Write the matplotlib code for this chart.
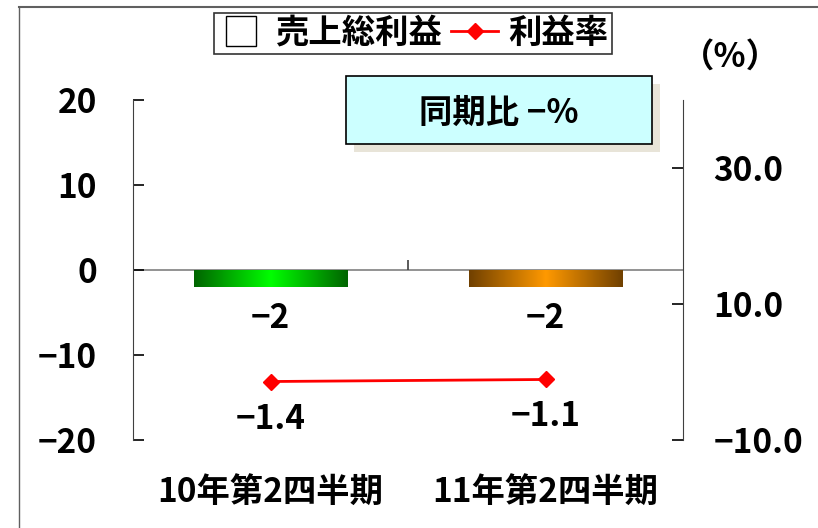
import numpy as np
import matplotlib
matplotlib.use('Agg')
import matplotlib.pyplot as plt
from matplotlib.lines import Line2D
from matplotlib.patches import Rectangle
from matplotlib.colors import LinearSegmentedColormap

plt.rcParams['font.family'] = ['Noto Sans CJK JP', 'DejaVu Sans']
plt.rcParams['font.weight'] = 'bold'

# データ
categories = ['10年第2四半期', '11年第2四半期']
gross_profit = [-2, -2]          # 売上総利益（左軸）
profit_rate = [-1.4, -1.1]       # 利益率（右軸, %）
bar_labels = ['−2', '−2']
rate_labels = ['−1.4', '−1.1']
left_ticks = [-20, -10, 0, 10, 20]
left_ticklabels = ['−20', '−10', '0', '10', '20']
right_ticks = [-10, 10, 30]
right_ticklabels = ['−10.0', '10.0', '30.0']
bar_grad = [['#006400', '#00ff00', '#006400'],
            ['#704000', '#ff9900', '#704000']]

FS = 24

fig = plt.figure(figsize=(8.18, 5.28), dpi=100)
ax = fig.add_axes([133/818, 1-440/528, 550/818, 340/528])
ax2 = ax.twinx()

x = np.arange(len(categories))
bars = ax.bar(x, gross_profit, width=0.56, color='none', zorder=2)
for b, cols in zip(bars, bar_grad):
    cmap = LinearSegmentedColormap.from_list('g', cols)
    grad = np.linspace(0, 1, 256).reshape(1, -1)
    im = ax.imshow(grad, cmap=cmap, aspect='auto', zorder=2,
                   extent=[b.get_x(), b.get_x()+b.get_width(), b.get_y(), b.get_y()+b.get_height()])
    im.set_clip_path(b)

for xi, v, t in zip(x, gross_profit, bar_labels):
    ax.annotate(t, xy=(xi, v), xytext=(0, -23), textcoords='offset points',
                ha='center', va='center', fontsize=FS, fontweight='bold')

ax.axhline(0, color='#808080', lw=1.2, zorder=1)
ax.vlines(0.5, 0, 1.2, color='#404040', lw=1.2)

ax.set_xlim(-0.5, 1.5)
ax.set_ylim(-20, 20)
ax.set_yticks(left_ticks)
ax.set_yticklabels(left_ticklabels)
ax.set_xticks(x)
ax.set_xticklabels(categories)
ax.tick_params(axis='x', length=0, pad=26, labelsize=FS)
ax.tick_params(axis='y', direction='in', length=8, pad=26, labelsize=FS, width=1.2)
for s in ['top', 'bottom', 'right']:
    ax.spines[s].set_visible(False)
ax.spines['left'].set_color('#404040')

ax2.plot(x, profit_rate, color='red', lw=2, marker='D', markersize=8, zorder=3)
for xi, v, t in zip(x, profit_rate, rate_labels):
    ax2.annotate(t, xy=(xi, v), xytext=(0, -27), textcoords='offset points',
                 ha='center', va='center', fontsize=FS, fontweight='bold')
ax2.set_ylim(-10, 40)
ax2.set_yticks(right_ticks)
ax2.set_yticklabels(right_ticklabels)
ax2.tick_params(axis='y', direction='in', length=8, pad=22, labelsize=FS, width=1.2)
for s in ['top', 'bottom', 'left']:
    ax2.spines[s].set_visible(False)
ax2.spines['right'].set_color('#404040')

# 凡例
handles = [Line2D([], [], marker='s', markersize=21, markerfacecolor='white',
                  markeredgecolor='black', markeredgewidth=1, linestyle='none'),
           Line2D([], [], color='red', lw=2, marker='D', markersize=8)]
leg = fig.legend(handles, ['売上総利益', '利益率'], loc='center', bbox_to_anchor=(0.505, 0.9375),
                 ncol=2, fontsize=FS, frameon=True, fancybox=False, handlelength=1.4,
                 handletextpad=0.3, columnspacing=0.3, borderpad=0.12, borderaxespad=0)
leg.get_frame().set_edgecolor('black')
leg.get_frame().set_linewidth(1.2)

fig.text(730/818, 1-57/528, '（%）', ha='center', va='center', fontsize=FS, fontweight='bold')

# 同期比ボックス
fig.add_artist(Rectangle((354/818, 1-152/528), 306/818, 68/528, transform=fig.transFigure,
                         facecolor='#e8e4d8', edgecolor='none'))
fig.add_artist(Rectangle((346/818, 1-144/528), 306/818, 68/528, transform=fig.transFigure,
                         facecolor='#ccffff', edgecolor='black', lw=1.2))
fig.text(499/818, 1-113/528, '同期比 −%', ha='center', va='center', fontsize=FS, fontweight='bold')

# 外枠
fig.add_artist(Line2D([19/818, 19/818], [0, 1-7/528], transform=fig.transFigure, color='#606060', lw=1))
fig.add_artist(Line2D([19/818, 1], [1-7/528, 1-7/528], transform=fig.transFigure, color='#606060', lw=1.5))

fig.savefig('out.png', dpi=100)
